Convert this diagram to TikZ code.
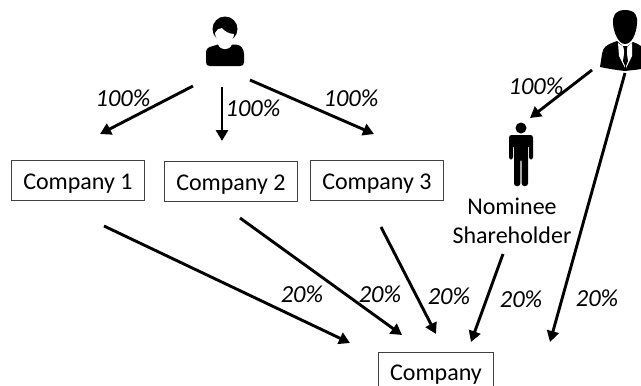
\documentclass[tikz,border=0pt]{standalone}
\usepackage{fontspec}
\setmainfont{Carlito}
\usetikzlibrary{arrows.meta}
\tikzset{
 box/.style={draw=black!75,line width=0.9pt,inner sep=0pt,anchor=north west,font=\fontsize{24}{29}\selectfont,text height=23pt,text depth=5pt},
 pct/.style={font=\itshape\fontsize{24.5}{29}\selectfont,inner sep=0pt},
 lbl/.style={font=\fontsize{24}{29}\selectfont,inner sep=0pt,align=center},
 conn/.style={line width=2.9pt,-{Triangle[length=11pt,width=12pt]}},
}
\begin{document}
\begin{tikzpicture}[x=1pt,y=-1pt]
\useasboundingbox (0,0) rectangle (641,386);
% boxes
\node[box,minimum width=133pt,minimum height=40pt] (c1) at (11,160) {Company 1};
\node[box,minimum width=133pt,minimum height=40pt] (c2) at (164,161) {Company 2};
\node[box,minimum width=133pt,minimum height=40pt] (c3) at (310,160) {Company 3};
\node[box,minimum width=115pt,minimum height=40pt] (co) at (378,351.5) {Company};
\node[lbl] (ns) at (512,221) {Nominee\\Shareholder};
% woman
\fill (225,29) circle (12.5);
\fill (213,46) -- (218,44.5) .. controls (220,51) and (230,51) .. (232,44.5) -- (236,44.5)
  .. controls (241,45) and (244,49) .. (244,54) -- (244,62) .. controls (244,65) and (243,66) .. (240,66)
  -- (210,66) .. controls (207,66) and (206,65) .. (206,62) -- (206,53) .. controls (206,49) and (208,47) .. (213,46) -- cycle;
\fill[white] (215,33) .. controls (216,30) and (219,28) .. (222,28) .. controls (224,31) and (229,34) .. (234,34) .. controls (234,38) and (231,43) .. (225,43) .. controls (219,43) and (215,38) .. (215,33) -- cycle;
% man
\fill (625,10) .. controls (615,10) and (612,17) .. (613,24) .. controls (614,34) and (619,44) .. (625,44)
  .. controls (632,44) and (636,34) .. (637,24) .. controls (638,17) and (636,10) .. (625,10) -- cycle;
\fill (617,41) .. controls (606,45) and (603,47) .. (602,54) -- (600,67) .. controls (610,69) and (616,70) .. (625,71)
  .. controls (632,70) and (636,70) .. (641,69) -- (641,46) .. controls (638,44) and (636,43) .. (633,42) -- (625,48) -- cycle;
\fill[white] (618,43) -- (624,47) -- (625,68) -- (619,56) -- cycle;
\fill[white] (632,43) -- (627,47) -- (626,68) -- (632,56) -- cycle;
\fill (623,46) -- (627.5,46) -- (626.5,51) -- (628,61) -- (625.5,67) -- (623,61) -- (624.5,51) -- cycle;
% nominee
\fill (521,128) circle (5.5);
\fill[rounded corners=2.5pt] (509,135) -- (533,135) -- (533,159.5) -- (529,159.5) -- (529,145) -- (528,145) -- (528,186) -- (521.7,186) -- (521.7,159) -- (520.3,159) -- (520.3,186) -- (514,186) -- (514,145) -- (513,145) -- (513,159.5) -- (509,159.5) -- cycle;
% connector ends
\coordinate (a1) at (193,86); \coordinate (b1) at (100,134);
\coordinate (a2) at (222,87); \coordinate (b2) at (222,141);
\coordinate (a3) at (250,80); \coordinate (b3) at (374,134);
\coordinate (a4) at (592,70); \coordinate (b4) at (530,118);
\coordinate (a5) at (625,73); \coordinate (b5) at (550,342);
\coordinate (a6) at (104,226); \coordinate (b6) at (350,343);
\coordinate (a7) at (240,218); \coordinate (b7) at (402,335);
\coordinate (a8) at (381,227); \coordinate (b8) at (436,334);
\coordinate (a9) at (503,254); \coordinate (b9) at (471,342);
\foreach \i in {1,...,9} {\draw[conn] (a\i) -- (b\i);}
% percentages
\node[pct] (p1) at (123,98) {100\%};
\node[pct] (p2) at (253,108) {100\%};
\node[pct] (p3) at (351,98) {100\%};
\node[pct] (p4) at (536,86) {100\%};
\node[pct] (p5) at (302,294) {20\%};
\node[pct] (p6) at (380,294) {20\%};
\node[pct] (p7) at (449,296) {20\%};
\node[pct] (p8) at (521,299) {20\%};
\node[pct] (p9) at (597,298) {20\%};
\end{tikzpicture}
\end{document}
